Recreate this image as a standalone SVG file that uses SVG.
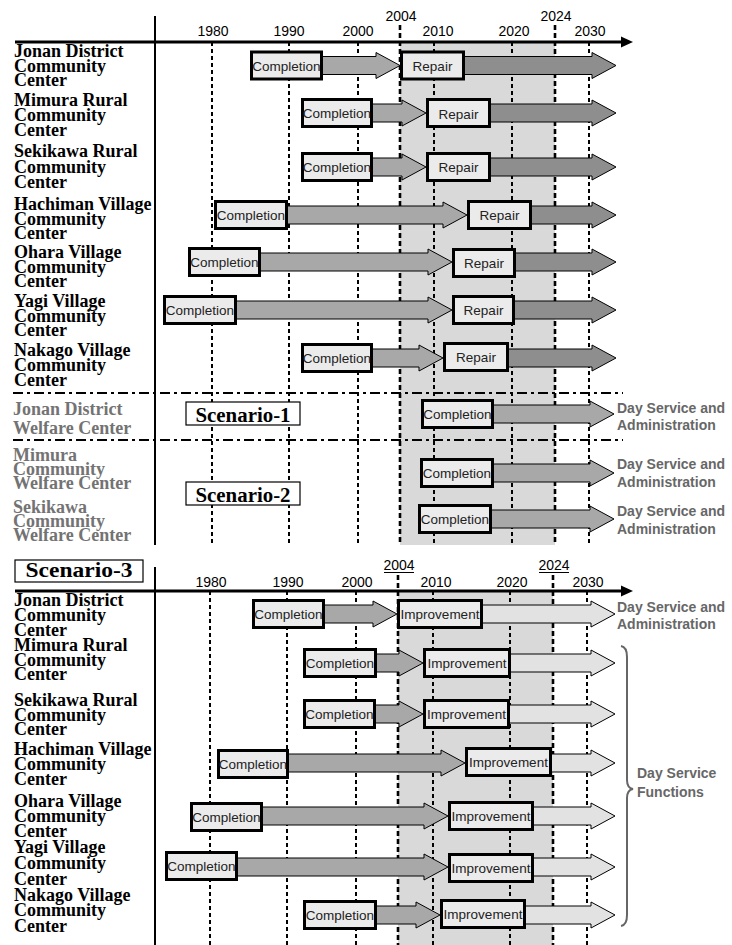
<svg xmlns="http://www.w3.org/2000/svg" width="732" height="945" viewBox="0 0 732 945">
  <style>
    .bg { fill: #ffffff; }
    .shade { fill: #d9d9d9; }
    .grid { stroke: #000; stroke-width: 2; stroke-dasharray: 4 3; fill: none; }
    .grid-key { stroke: #000; stroke-width: 2.6; stroke-dasharray: 5 3; fill: none; }
    .axis { stroke: #000; stroke-width: 3; }
    .vaxis { stroke: #000; stroke-width: 2; }
    .sep { stroke: #000; stroke-width: 2; stroke-dasharray: 10 4 3 4; }
    .year { font-family: 'Liberation Sans', Arial, sans-serif; font-size: 14px; fill: #000; text-anchor: middle; }
    .lbl { font-family: 'Liberation Serif', 'Times New Roman', serif; font-size: 18px; font-weight: bold; fill: #000; }
    .lbl-g { font-family: 'Liberation Serif', 'Times New Roman', serif; font-size: 18px; font-weight: bold; fill: #737373; }
    .box { fill: #ebebeb; stroke: #000; stroke-width: 3; }
    .bt { font-family: 'Liberation Sans', Arial, sans-serif; font-size: 13.5px; fill: #222; text-anchor: middle; }
    .a-mid { fill: #a8a8a8; stroke: #000; stroke-width: 1; }
    .a-dark { fill: #8e8e8e; stroke: #000; stroke-width: 1; }
    .a-light { fill: #e2e2e2; stroke: #000; stroke-width: 1; }
    .note { font-family: 'Liberation Sans', Arial, sans-serif; font-size: 14px; font-weight: bold; fill: #676767; }
    .scn { fill: #fff; stroke: #000; stroke-width: 1.2; }
    .scn-t { font-family: 'Liberation Serif', 'Times New Roman', serif; font-weight: bold; fill: #000; text-anchor: middle; }
    .brace { fill: none; stroke: #666; stroke-width: 2; }
  </style>
  <defs>
    <polygon id="axis-head" points="-12,-5.5 0,0 -12,5.5" fill="#000"/>
  </defs>

  <rect class="bg" x="0" y="0" width="732" height="945"/>

  <!-- upper chart: 2004-2024 band, grid, axes -->
  <g id="upper-grid">
    <rect class="shade" x="400" y="42" width="155" height="503"/>
    <line class="grid" x1="212" y1="42" x2="212" y2="545"/>
    <line class="grid" x1="289" y1="42" x2="289" y2="545"/>
    <line class="grid" x1="358" y1="42" x2="358" y2="545"/>
    <line class="grid" x1="434" y1="42" x2="434" y2="545"/>
    <line class="grid" x1="512" y1="42" x2="512" y2="545"/>
    <line class="grid" x1="589" y1="42" x2="589" y2="545"/>
    <line class="grid-key" x1="400" y1="25" x2="400" y2="545"/>
    <line class="grid-key" x1="555" y1="25" x2="555" y2="545"/>
    <line class="vaxis" x1="155" y1="16" x2="155" y2="545"/>
    <line class="axis" x1="15" y1="42" x2="624" y2="42"/>
    <use href="#axis-head" x="633" y="42"/>
    <text class="year" x="213" y="36">1980</text>
    <text class="year" x="289" y="36">1990</text>
    <text class="year" x="358" y="36">2000</text>
    <text class="year" x="401" y="21">2004</text>
    <text class="year" x="438" y="36">2010</text>
    <text class="year" x="514" y="36">2020</text>
    <text class="year" x="556" y="21">2024</text>
    <text class="year" x="590" y="36">2030</text>
    <line class="sep" x1="13" y1="393" x2="623" y2="393"/>
    <line class="sep" x1="13" y1="440" x2="623" y2="440"/>
  </g>

  <!-- lower chart (Scenario-3): band, grid, axes -->
  <g id="lower-grid">
    <rect class="shade" x="398" y="591" width="155" height="354"/>
    <line class="grid" x1="210" y1="591" x2="210" y2="945"/>
    <line class="grid" x1="287" y1="591" x2="287" y2="945"/>
    <line class="grid" x1="356" y1="591" x2="356" y2="945"/>
    <line class="grid" x1="433" y1="591" x2="433" y2="945"/>
    <line class="grid" x1="510" y1="591" x2="510" y2="945"/>
    <line class="grid" x1="587" y1="591" x2="587" y2="945"/>
    <line class="grid-key" x1="398" y1="575" x2="398" y2="945"/>
    <line class="grid-key" x1="553" y1="575" x2="553" y2="945"/>
    <line class="vaxis" x1="155" y1="567" x2="155" y2="945"/>
    <line class="axis" x1="15" y1="591" x2="624" y2="591"/>
    <use href="#axis-head" x="633" y="591"/>
    <text class="year" x="211" y="587">1980</text>
    <text class="year" x="288" y="587">1990</text>
    <text class="year" x="357" y="587">2000</text>
    <text class="year" x="399" y="570">2004</text>
    <line x1="384" y1="572.5" x2="414" y2="572.5" stroke="#000" stroke-width="1"/>
    <text class="year" x="436" y="587">2010</text>
    <text class="year" x="512" y="587">2020</text>
    <text class="year" x="554" y="570">2024</text>
    <line x1="539" y1="572.5" x2="569" y2="572.5" stroke="#000" stroke-width="1"/>
    <text class="year" x="588" y="587">2030</text>
  </g>

  <!-- timeline arrows -->
  <g id="connectors">
    <path class="a-mid" d="M320,56.5 H376 V52.5 L400,65.5 L376,78.5 V74.5 H320 Z"/>
    <path class="a-dark" d="M462,56.5 H592 V52.5 L616,65.5 L592,78.5 V74.5 H462 Z"/>
    <path class="a-mid" d="M370,104 H402 V100 L426,113 L402,126 V122 H370 Z"/>
    <path class="a-dark" d="M488,104 H592 V100 L616,113 L592,126 V122 H488 Z"/>
    <path class="a-mid" d="M370,158 H402 V154 L426,167 L402,180 V176 H370 Z"/>
    <path class="a-dark" d="M488,158 H592 V154 L616,167 L592,180 V176 H488 Z"/>
    <path class="a-mid" d="M285,206 H443 V202 L467,215 L443,228 V224 H285 Z"/>
    <path class="a-dark" d="M529,206 H592 V202 L616,215 L592,228 V224 H529 Z"/>
    <path class="a-mid" d="M258,253 H428 V249 L452,262 L428,275 V271 H258 Z"/>
    <path class="a-dark" d="M513,253 H592 V249 L616,262 L592,275 V271 H513 Z"/>
    <path class="a-mid" d="M234,301 H428 V297 L452,310 L428,323 V319 H234 Z"/>
    <path class="a-dark" d="M512,301 H592 V297 L616,310 L592,323 V319 H512 Z"/>
    <path class="a-mid" d="M370,349 H419 V345 L443,358 L419,371 V367 H370 Z"/>
    <path class="a-dark" d="M506,349 H592 V345 L616,358 L592,371 V367 H506 Z"/>

    <path class="a-mid" d="M491,405 H590 V401 L614,414 L590,427 V423 H491 Z"/>
    <path class="a-mid" d="M491,464 H590 V460 L614,473 L590,486 V482 H491 Z"/>
    <path class="a-mid" d="M489,510 H590 V506 L614,519 L590,532 V528 H489 Z"/>

    <path class="a-mid" d="M322,605 H373 V601 L397,614 L373,627 V623 H322 Z"/>
    <path class="a-light" d="M480,605 H591 V601 L615,614 L591,627 V623 H480 Z"/>
    <path class="a-mid" d="M374,654 H399 V650 L423,663 L399,676 V672 H374 Z"/>
    <path class="a-light" d="M508,654 H591 V650 L615,663 L591,676 V672 H508 Z"/>
    <path class="a-mid" d="M373,705 H399 V701 L423,714 L399,727 V723 H373 Z"/>
    <path class="a-light" d="M507,705 H591 V701 L615,714 L591,727 V723 H507 Z"/>
    <path class="a-mid" d="M286,754 H441 V750 L465,763 L441,776 V772 H286 Z"/>
    <path class="a-light" d="M549,754 H591 V750 L615,763 L591,776 V772 H549 Z"/>
    <path class="a-mid" d="M260,807 H424 V803 L448,816 L424,829 V825 H260 Z"/>
    <path class="a-light" d="M531,807 H591 V803 L615,816 L591,829 V825 H531 Z"/>
    <path class="a-mid" d="M235,858 H424 V854 L448,867 L424,880 V876 H235 Z"/>
    <path class="a-light" d="M531,858 H591 V854 L615,867 L591,880 V876 H531 Z"/>
    <path class="a-mid" d="M374,906 H416 V902 L440,915 L416,928 V924 H374 Z"/>
    <path class="a-light" d="M523,906 H591 V902 L615,915 L591,928 V924 H523 Z"/>
  </g>

  <!-- upper facilities -->
  <g id="jonan-cc">
    <text class="lbl" x="14" y="57">Jonan District</text>
    <text class="lbl" x="14" y="71.5">Community</text>
    <text class="lbl" x="14" y="86">Center</text>
    <rect class="box" x="251.5" y="52" width="70" height="27"/>
    <text class="bt" x="286.5" y="70.5">Completion</text>
    <rect class="box" x="401.5" y="52" width="62" height="27"/>
    <text class="bt" x="432.5" y="70.5">Repair</text>
  </g>
  <g id="mimura-cc">
    <text class="lbl" x="14" y="106">Mimura Rural</text>
    <text class="lbl" x="14" y="121">Community</text>
    <text class="lbl" x="14" y="136">Center</text>
    <rect class="box" x="302.5" y="99.5" width="69" height="27"/>
    <text class="bt" x="337" y="118">Completion</text>
    <rect class="box" x="427.5" y="99.5" width="62" height="27"/>
    <text class="bt" x="458.5" y="119">Repair</text>
  </g>
  <g id="sekikawa-cc">
    <text class="lbl" x="14" y="157">Sekikawa Rural</text>
    <text class="lbl" x="14" y="172.5">Community</text>
    <text class="lbl" x="14" y="188">Center</text>
    <rect class="box" x="302.5" y="153.5" width="69" height="27"/>
    <text class="bt" x="337" y="172">Completion</text>
    <rect class="box" x="427.5" y="153.5" width="62" height="27"/>
    <text class="bt" x="458.5" y="172">Repair</text>
  </g>
  <g id="hachiman-cc">
    <text class="lbl" x="14" y="210">Hachiman Village</text>
    <text class="lbl" x="14" y="224.5">Community</text>
    <text class="lbl" x="14" y="239">Center</text>
    <rect class="box" x="215.5" y="201.5" width="71" height="27"/>
    <text class="bt" x="251" y="220">Completion</text>
    <rect class="box" x="468.5" y="201.5" width="62" height="27"/>
    <text class="bt" x="499.5" y="220">Repair</text>
  </g>
  <g id="ohara-cc">
    <text class="lbl" x="14" y="258">Ohara Village</text>
    <text class="lbl" x="14" y="272.5">Community</text>
    <text class="lbl" x="14" y="287">Center</text>
    <rect class="box" x="189.5" y="248.5" width="70" height="27"/>
    <text class="bt" x="224.5" y="267">Completion</text>
    <rect class="box" x="453.5" y="249.5" width="61" height="27"/>
    <text class="bt" x="484" y="268">Repair</text>
  </g>
  <g id="yagi-cc">
    <text class="lbl" x="14" y="307">Yagi Village</text>
    <text class="lbl" x="14" y="321.5">Community</text>
    <text class="lbl" x="14" y="336">Center</text>
    <rect class="box" x="164.5" y="296.5" width="71" height="27"/>
    <text class="bt" x="200" y="315">Completion</text>
    <rect class="box" x="453.5" y="296.5" width="60" height="27"/>
    <text class="bt" x="483.5" y="315">Repair</text>
  </g>
  <g id="nakago-cc">
    <text class="lbl" x="14" y="356">Nakago Village</text>
    <text class="lbl" x="14" y="371">Community</text>
    <text class="lbl" x="14" y="386">Center</text>
    <rect class="box" x="302.5" y="344.5" width="69" height="27"/>
    <text class="bt" x="337" y="363">Completion</text>
    <rect class="box" x="444.5" y="343.5" width="63" height="27"/>
    <text class="bt" x="476" y="362">Repair</text>
  </g>

  <!-- welfare centers (Scenario-1 / Scenario-2) -->
  <g id="jonan-wc">
    <text class="lbl-g" x="13" y="415">Jonan District</text>
    <text class="lbl-g" x="13" y="434">Welfare Center</text>
    <rect class="box" x="422.5" y="400.5" width="70" height="27"/>
    <text class="bt" x="457.5" y="419">Completion</text>
    <text class="note" x="617" y="413">Day Service and</text>
    <text class="note" x="617" y="430">Administration</text>
  </g>
  <g id="mimura-wc">
    <text class="lbl-g" x="13" y="461">Mimura</text>
    <text class="lbl-g" x="13" y="475">Community</text>
    <text class="lbl-g" x="13" y="489">Welfare Center</text>
    <rect class="box" x="421.5" y="459.5" width="71" height="27"/>
    <text class="bt" x="457" y="478">Completion</text>
    <text class="note" x="617" y="469">Day Service and</text>
    <text class="note" x="617" y="487">Administration</text>
  </g>
  <g id="sekikawa-wc">
    <text class="lbl-g" x="13" y="513">Sekikawa</text>
    <text class="lbl-g" x="13" y="527">Community</text>
    <text class="lbl-g" x="13" y="541">Welfare Center</text>
    <rect class="box" x="419.5" y="505.5" width="71" height="27"/>
    <text class="bt" x="455" y="524">Completion</text>
    <text class="note" x="617" y="516">Day Service and</text>
    <text class="note" x="617" y="534">Administration</text>
  </g>
  <g id="scenario-1">
    <rect class="scn" x="186" y="402" width="114" height="23"/>
    <text class="scn-t" x="243" y="422" font-size="20" textLength="95" lengthAdjust="spacingAndGlyphs">Scenario-1</text>
  </g>
  <g id="scenario-2">
    <rect class="scn" x="186" y="482" width="114" height="23"/>
    <text class="scn-t" x="243" y="502" font-size="20" textLength="95" lengthAdjust="spacingAndGlyphs">Scenario-2</text>
  </g>
  <g id="scenario-3">
    <rect class="scn" x="15" y="560" width="128" height="22"/>
    <text class="scn-t" x="79" y="577" font-size="21" textLength="107" lengthAdjust="spacingAndGlyphs">Scenario-3</text>
  </g>

  <!-- lower facilities (Scenario-3) -->
  <g id="jonan-cc-s3">
    <text class="lbl" x="14" y="606">Jonan District</text>
    <text class="lbl" x="14" y="621">Community</text>
    <text class="lbl" x="14" y="636">Center</text>
    <rect class="box" x="253.5" y="600.5" width="70" height="27"/>
    <text class="bt" x="288.5" y="619">Completion</text>
    <rect class="box" x="398.5" y="600.5" width="83" height="27"/>
    <text class="bt" x="440" y="619">Improvement</text>
    <text class="note" x="617" y="612">Day Service and</text>
    <text class="note" x="617" y="629">Administration</text>
  </g>
  <g id="mimura-cc-s3">
    <text class="lbl" x="14" y="651">Mimura Rural</text>
    <text class="lbl" x="14" y="665.5">Community</text>
    <text class="lbl" x="14" y="680">Center</text>
    <rect class="box" x="304.5" y="649.5" width="71" height="27"/>
    <text class="bt" x="340" y="668">Completion</text>
    <rect class="box" x="424.5" y="649.5" width="85" height="27"/>
    <text class="bt" x="467" y="668">Improvement</text>
  </g>
  <g id="sekikawa-cc-s3">
    <text class="lbl" x="14" y="706">Sekikawa Rural</text>
    <text class="lbl" x="14" y="720.5">Community</text>
    <text class="lbl" x="14" y="735">Center</text>
    <rect class="box" x="304.5" y="700.5" width="70" height="27"/>
    <text class="bt" x="339.5" y="719">Completion</text>
    <rect class="box" x="424.5" y="700.5" width="84" height="27"/>
    <text class="bt" x="466.5" y="719">Improvement</text>
  </g>
  <g id="hachiman-cc-s3">
    <text class="lbl" x="14" y="755">Hachiman Village</text>
    <text class="lbl" x="14" y="770">Community</text>
    <text class="lbl" x="14" y="785">Center</text>
    <rect class="box" x="218.5" y="750.5" width="69" height="27"/>
    <text class="bt" x="253" y="769">Completion</text>
    <rect class="box" x="466.5" y="748.5" width="84" height="27"/>
    <text class="bt" x="508.5" y="767">Improvement</text>
  </g>
  <g id="ohara-cc-s3">
    <text class="lbl" x="14" y="807">Ohara Village</text>
    <text class="lbl" x="14" y="822">Community</text>
    <text class="lbl" x="14" y="837">Center</text>
    <rect class="box" x="191.5" y="803.5" width="70" height="27"/>
    <text class="bt" x="226.5" y="822">Completion</text>
    <rect class="box" x="449.5" y="802.5" width="83" height="27"/>
    <text class="bt" x="491" y="821">Improvement</text>
  </g>
  <g id="yagi-cc-s3">
    <text class="lbl" x="14" y="853">Yagi Village</text>
    <text class="lbl" x="14" y="869">Community</text>
    <text class="lbl" x="14" y="885">Center</text>
    <rect class="box" x="166.5" y="852.5" width="70" height="27"/>
    <text class="bt" x="201.5" y="871">Completion</text>
    <rect class="box" x="449.5" y="854.5" width="83" height="27"/>
    <text class="bt" x="491" y="873">Improvement</text>
  </g>
  <g id="nakago-cc-s3">
    <text class="lbl" x="14" y="901">Nakago Village</text>
    <text class="lbl" x="14" y="916">Community</text>
    <text class="lbl" x="14" y="932">Center</text>
    <rect class="box" x="304.5" y="901.5" width="71" height="27"/>
    <text class="bt" x="340" y="920">Completion</text>
    <rect class="box" x="441.5" y="900.5" width="83" height="27"/>
    <text class="bt" x="483" y="919">Improvement</text>
  </g>

  <!-- grouping brace for day-service rows -->
  <g id="day-service-group">
    <path class="brace" d="M621,646 Q627,647 627,657 L627,780 Q627,788 633,789 Q627,790 627,798 L627,915 Q627,925 621,926"/>
    <text class="note" x="637" y="778">Day Service</text>
    <text class="note" x="637" y="797">Functions</text>
  </g>
</svg>
